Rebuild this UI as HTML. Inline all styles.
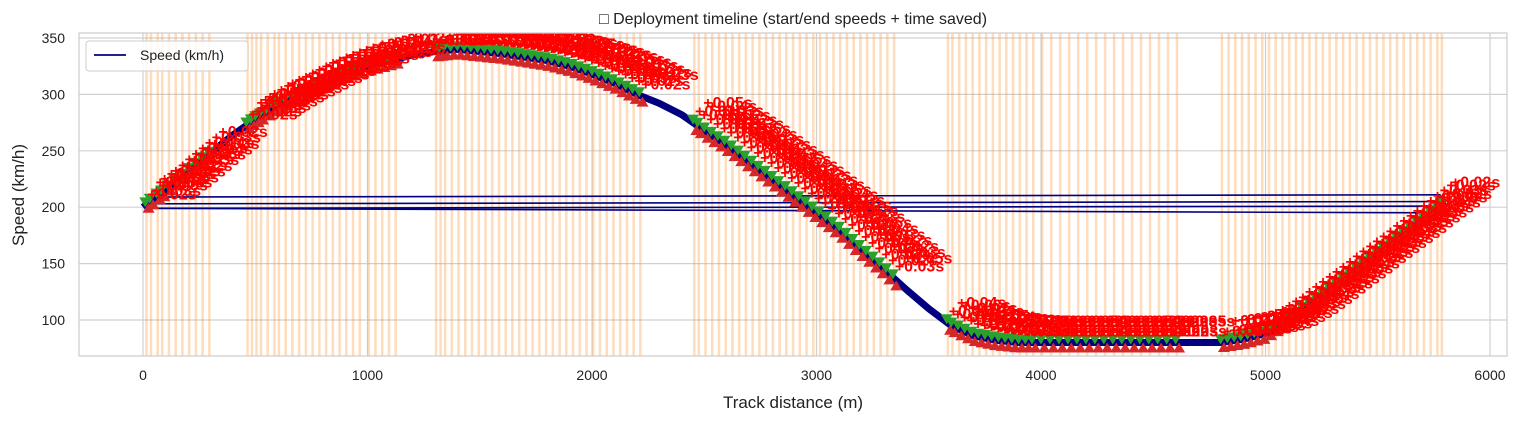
<!DOCTYPE html>
<html><head><meta charset="utf-8"><style>
body{margin:0;background:#fff;}
svg{display:block;font-family:"Liberation Sans","DejaVu Sans",sans-serif;}
</style></head><body>
<svg id="chart" width="1519" height="422"></svg>
<script>
const distances=[0,50,100,200,300,400,500,600,700,800,900,1000,1100,1200,1300,1400,1500,1600,1700,1800,1900,2000,2100,2200,2300,2400,2500,2600,2700,2800,2900,3000,3100,3200,3300,3400,3500,3600,3700,3800,3900,4200,4600,4800,4900,5000,5100,5200,5300,5400,5500,5600,5700,5800];
const speeds=[200,208,215,232,248,264,278,290,300,310,318,325,330,335,338,340,338,336,333,330,325,318,310,300,292,282,268,255,240,225,210,195,180,162,145,127,110,95,86,82,80,80,80,80,83,88,100,115,130,145,160,175,190,205];
const wrapSpeeds=[211,205,201,195];
const deployStarts=[10,30,60,80,110,140,170,200,230,260,290,460,480,500,520,550,580,600,630,660,690,720,750,780,810,840,870,900,930,960,1000,1030,1060,1090,1120,1300,1320,1340,1370,1400,1430,1460,1490,1520,1550,1580,1610,1640,1670,1700,1730,1760,1790,1820,1850,1880,1910,1940,1970,2000,2030,2060,2090,2120,2150,2180,2210,2450,2470,2500,2530,2560,2590,2620,2650,2680,2710,2740,2770,2800,2830,2860,2890,2920,2950,2980,3010,3040,3070,3100,3130,3160,3190,3220,3250,3280,3310,3340,3580,3600,3630,3660,3690,3720,3750,3780,3810,3840,3870,3900,3930,3960,4000,4040,4080,4120,4160,4200,4240,4280,4320,4360,4400,4440,4480,4520,4560,4600,4800,4830,4860,4890,4920,4950,4980,5010,5040,5070,5100,5130,5160,5190,5220,5250,5280,5310,5340,5370,5400,5430,5460,5490,5520,5550,5580,5610,5640,5670,5700,5730,5760,5780];
const timeSaved=["+0.02s","+0.03s","+0.05s","+0.04s","+0.03s","+0.02s"];
const xTicks=[0,1000,2000,3000,4000,5000,6000];
const yTicks=[100,150,200,250,300,350];

const svg=document.getElementById('chart');const NS='http://www.w3.org/2000/svg';
const L=79,R=1507,T=33,B=356;
const xs=v=>143+v*(1347/6000);
const ys=v=>38+(350-v)*1.128;
function mk(tag,attrs,parent){const e=document.createElementNS(NS,tag);for(const k in attrs)e.setAttribute(k,attrs[k]);(parent||svg).appendChild(e);return e;}
function spAt(d){for(let i=1;i<distances.length;i++){if(d<=distances[i]){const t=(d-distances[i-1])/(distances[i]-distances[i-1]);return speeds[i-1]+t*(speeds[i]-speeds[i-1]);}}return speeds[speeds.length-1];}
mk('rect',{x:L,y:T,width:R-L,height:B-T,fill:'#fff'});
const grid=mk('g',{});
xTicks.forEach(t=>{mk('line',{x1:xs(t),x2:xs(t),y1:T,y2:B,stroke:'#d0d0d0','stroke-width':1.2},grid);});
yTicks.forEach(t=>{mk('line',{x1:L,x2:R,y1:ys(t),y2:ys(t),stroke:'#d0d0d0','stroke-width':1.2},grid);});
const vg=mk('g',{});
deployStarts.forEach(d=>{const r=mk('rect',{x:xs(d),y:T,width:2.5,height:B-T,fill:'#ff9a3c','fill-opacity':0.35},vg);});
const lg=mk('g',{});
let p='';distances.forEach((d,i)=>{p+=(i?'L':'M')+xs(d)+','+ys(speeds[i]);});
mk('path',{d:p,fill:'none',stroke:'#000080','stroke-width':7,'stroke-linejoin':'round'},lg);
wrapSpeeds.forEach(s=>{const l=mk('line',{x1:xs(5780),x2:xs(20),y1:ys(s),y2:ys(s+(s>200?-2:4)),stroke:'#000080','stroke-width':1.6},lg);});
const mg=mk('g',{});
deployStarts.forEach(d=>{const x=xs(d),y=ys(spAt(d))-3;
const g=mk('path',{d:`M${x-6},${y-5}L${x+6},${y-5}L${x},${y+5}Z`,fill:'#2ca02c'},mg);
const e=d+15,x2=xs(e),y2=ys(spAt(e))+5;
const r=mk('path',{d:`M${x2-6},${y2+5}L${x2+6},${y2+5}L${x2},${y2-5}Z`,fill:'#d62728'},mg);});
const tg=mk('g',{});
deployStarts.forEach((d,i)=>{for(let k=0;k<2;k++){const dd=d+k*10;
const t=mk('text',{x:xs(dd)+2+k*6,y:ys(spAt(dd))-6-k*10,'font-size':16,'font-weight':'bold',fill:'#ff0000'},tg);t.textContent=timeSaved[(i+k)%timeSaved.length];}});
mk('rect',{x:0,y:0,width:1519,height:T,fill:'#fff'});
mk('rect',{x:0,y:B,width:1519,height:422-B,fill:'#fff'});
mk('rect',{x:0,y:0,width:L,height:422,fill:'#fff'});
mk('rect',{x:R,y:0,width:1519-R,height:422,fill:'#fff'});
mk('rect',{x:L,y:T,width:R-L,height:B-T,fill:'none',stroke:'#cccccc','stroke-width':1.2});
xTicks.forEach(t=>{const tx=mk('text',{x:xs(t),y:B+24,'text-anchor':'middle','font-size':14,fill:'#222'});tx.textContent=t;});
yTicks.forEach(t=>{const tx=mk('text',{x:L-14,y:ys(t)+5,'text-anchor':'end','font-size':14,fill:'#222'});tx.textContent=t;});
const title=mk('text',{x:793,y:24,'text-anchor':'middle','font-size':16,fill:'#222'});title.textContent='□ Deployment timeline (start/end speeds + time saved)';
const xt=mk('text',{x:793,y:408,'text-anchor':'middle','font-size':17,fill:'#222'});xt.textContent='Track distance (m)';
const yt=mk('text',{x:24,y:195,'text-anchor':'middle','font-size':17,fill:'#222',transform:'rotate(-90 24 195)'});yt.textContent='Speed (km/h)';
const leg=mk('g',{});
mk('rect',{x:86,y:41,width:162,height:30,rx:3,fill:'#fff','fill-opacity':0.85,stroke:'#ccc'},leg);
mk('line',{x1:94,x2:126,y1:55,y2:55,stroke:'#000080','stroke-width':1.8},leg);
const lt=mk('text',{x:140,y:60,'font-size':14,fill:'#222'},leg);lt.textContent='Speed (km/h)';
</script>
</body></html>
